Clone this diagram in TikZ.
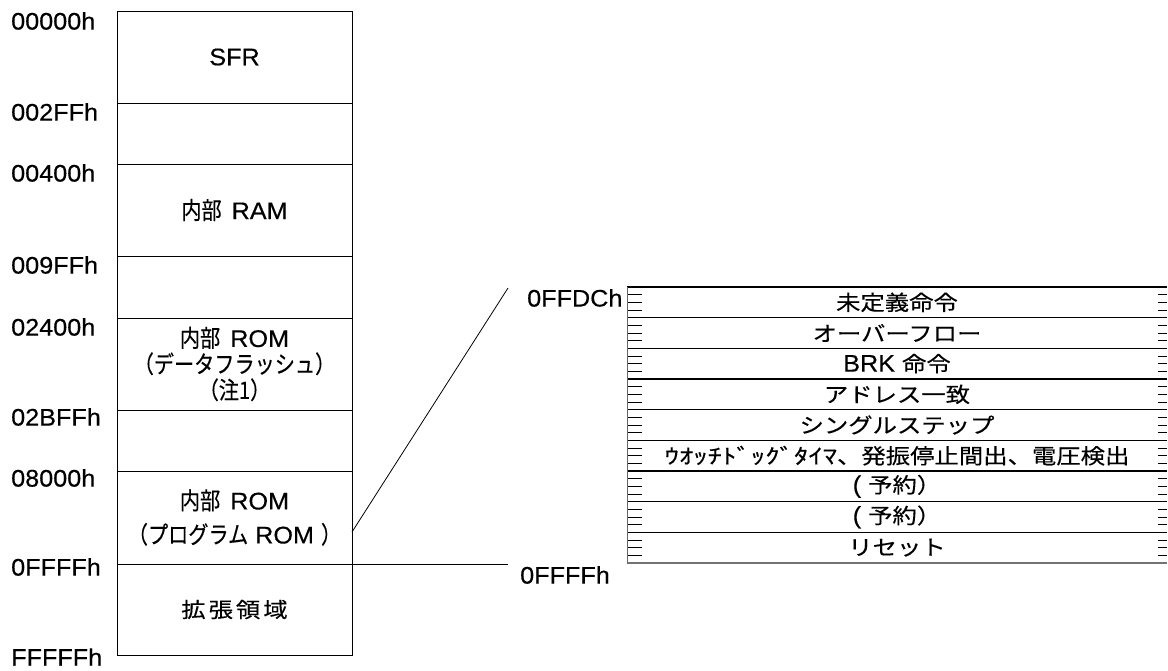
\documentclass[tikz,border=0pt]{standalone}
\usepackage{fontspec}
\usepackage{graphicx}
\usetikzlibrary{calc}
\setmainfont{Liberation Sans}[FakeStretch=1.05,FakeBold=0.4]
\newfontfamily\jpT{Noto Sans CJK JP}[FakeStretch=1.16,FakeBold=0.3]
\newfontfamily\jpL{Noto Sans CJK JP}[FakeStretch=0.84,FakeBold=0.3]
\newcommand\LT[1]{{\jpT\fontsize{21}{24}\selectfont #1}}
\newcommand\LL[1]{{\jpL\fontsize{24}{26}\selectfont #1}}
\begin{document}
\begin{tikzpicture}[x=1pt,y=-1pt,
  every node/.style={font=\fontsize{24}{26}\selectfont},
  region/.style={draw, line width=1pt, anchor=north west, minimum width=235pt, inner sep=0pt, outer sep=0pt, align=center},
  addr/.style={anchor=west, inner sep=0pt},
  vrow/.style={anchor=north west, minimum width=540pt, minimum height=30.667pt, inner sep=0pt, outer sep=0pt},
  tick/.style={line width=0.8pt},
  sep/.style={line width=1.1pt},
  conn/.style={line width=0.8pt}]
\useasboundingbox (0,0) rectangle (1168,670);
% memory map
\node[region, minimum height=92pt] (sfr) at (117,11) {SFR};
\node[region, minimum height=61pt] (g1) at (117,103) {};
\node[region, minimum height=92pt] (ram) at (117,164) {\LL{内部}\hspace{10pt}RAM};
\node[region, minimum height=62pt] (g2) at (117,256) {};
\node[region, minimum height=92pt] (df) at (117,318) {\LL{内部}\hspace{10pt}ROM\\\LL{（データフラッシュ）}\\\LL{（注1）}};
\node[region, minimum height=61pt] (g3) at (117,410) {};
\node[region, minimum height=93pt] (pm) at (117,471) {\LL{内部}\hspace{10pt}ROM\\[8pt]\LL{（プログラム} ROM \LL{）}};
\node[region, minimum height=91pt] (ex) at (117,564) {\LT{拡\hspace{3pt}張\hspace{3pt}領\hspace{3pt}域}};
% addresses
\node[addr] (a0) at (11,21) {00000h};
\node[addr] (a1) at (11,112) {002FFh};
\node[addr] (a2) at (11,173) {00400h};
\node[addr] (a3) at (11,265) {009FFh};
\node[addr] (a4) at (11,327) {02400h};
\node[addr] (a5) at (11,417) {02BFFh};
\node[addr] (a6) at (11,478) {08000h};
\node[addr] (a7) at (11,567) {0FFFFh};
\node[addr] (a8) at (11,657) {FFFFFh};
% vector table
\foreach \txt [count=\i from 0] in {{\LT{未定義命令}}, {\LT{オーバーフロー}}, {BRK \LT{命令}}, {\LT{アドレス一致}}, {\LT{シングルステップ}}, {\LT{\scalebox{1.18}[1]{ｳｵｯﾁﾄﾞｯｸﾞﾀｲﾏ}、発振停止間出、電圧検出}}, {( \LT{予約）}}, {( \LT{予約）}}, {\LT{リセット}}} {
  \node[vrow] (r\i) at (627,287+30.667*\i) {\txt};
  \draw[sep] (r\i.north west) -- (r\i.north east);
  \foreach \k in {1,2,3} {
    \draw[tick] ($(r\i.north west)+(0,7.667*\k)$) -- ++(15,0);
    \draw[tick] ($(r\i.north east)+(-9,7.667*\k)$) -- ++(9,0);
  }
}
\draw[line width=1.8pt, black!55] (r8.south west) -- (r8.south east);
\draw[line width=1pt, black!60] (r0.north west) -- (r8.south west);
% connectors
\node[addr] (dc) at (527,298) {0FFDCh};
\node[addr] (ff) at (520,575) {0FFFFh};
\coordinate (c1) at (508,288);
\coordinate (c2) at (508,564);
\draw[conn] ($(pm.south east)+(0,-32)$) -- (c1);
\draw[conn] (pm.south east) -- (c2);
\end{tikzpicture}
\end{document}
